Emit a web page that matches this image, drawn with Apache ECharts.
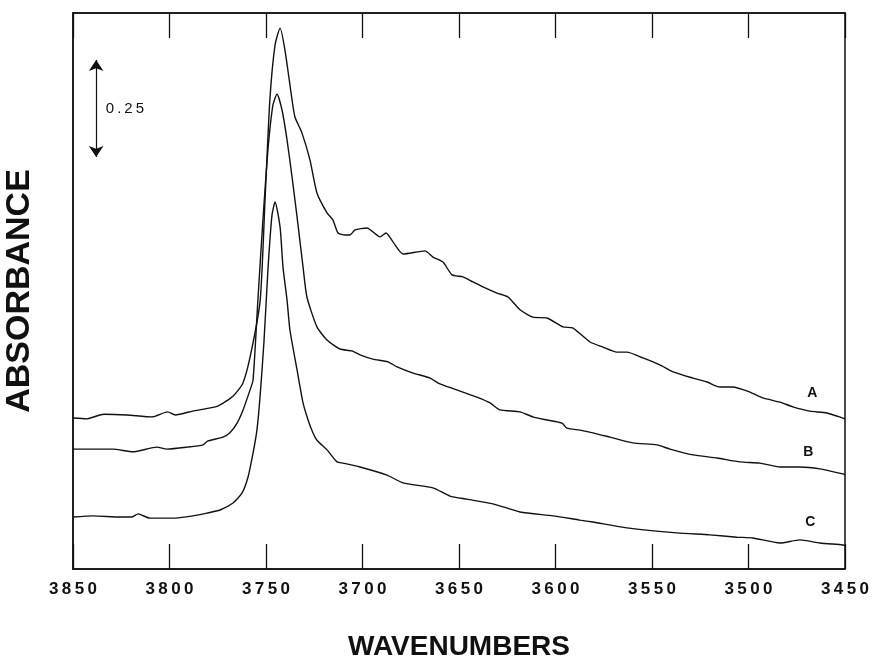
<!DOCTYPE html>
<html>
<head>
<meta charset="UTF-8">
<title>Absorbance spectra</title>
<script src="https://cdn.jsdelivr.net/npm/echarts@6/dist/echarts.min.js"></script>
<style>
    html,body{margin:0;padding:0;background:#fff;}
    #chart{width:872px;height:661px;}
</style>
</head>
<body>
<div id="chart"></div>
<script>
// wavenumber ticks
var xTicks = [3850, 3800, 3750, 3700, 3650, 3600, 3550, 3500, 3450];

// curve A
var waveA = [3850, 3843, 3834, 3822, 3809, 3801, 3797, 3788, 3775, 3767, 3762, 3758, 3753, 3750.5, 3748, 3745.3, 3742.7, 3740.2, 3736.5, 3735, 3731.4, 3727.2, 3723.6, 3718.4, 3715.3, 3712.7, 3709.1, 3706.5, 3703.9, 3697.7, 3690.9, 3687.8, 3684.2, 3679, 3667.6, 3663.5, 3658.3, 3653.6, 3647.9, 3642.8, 3637.6, 3630.3, 3624.6, 3618.4, 3611.7, 3604.4, 3596.1, 3590.9, 3582.1, 3575.4, 3568.2, 3563, 3554.7, 3545.9, 3539.1, 3528.8, 3521.5, 3514.8, 3508.1, 3499.3, 3492.5, 3483.7, 3477, 3468.2, 3459.4, 3451.1, 3450];
var absA = [0.389, 0.387, 0.399, 0.397, 0.392, 0.405, 0.397, 0.407, 0.420, 0.446, 0.479, 0.552, 0.693, 0.951, 1.209, 1.351, 1.394, 1.338, 1.209, 1.165, 1.124, 1.054, 0.969, 0.918, 0.899, 0.866, 0.861, 0.861, 0.874, 0.879, 0.856, 0.866, 0.843, 0.812, 0.820, 0.804, 0.791, 0.758, 0.753, 0.740, 0.727, 0.711, 0.701, 0.668, 0.649, 0.647, 0.624, 0.621, 0.585, 0.572, 0.559, 0.559, 0.544, 0.526, 0.508, 0.492, 0.482, 0.469, 0.469, 0.456, 0.441, 0.430, 0.418, 0.407, 0.402, 0.389, 0.387];

// curve B
var waveB = [3850, 3836, 3829.3, 3818.9, 3806.5, 3801.3, 3790.9, 3782.6, 3780.1, 3772.3, 3768.7, 3765, 3761.9, 3758.3, 3756.7, 3754.2, 3751.6, 3749, 3746.4, 3744.3, 3741.7, 3739.1, 3736.5, 3733.9, 3730.8, 3728.8, 3723.6, 3718.4, 3711.7, 3705.5, 3701.3, 3694.6, 3686.8, 3682.1, 3673.8, 3665, 3659.9, 3647.9, 3640.7, 3633.9, 3628.8, 3618.4, 3611.7, 3604.4, 3596.6, 3594.1, 3587.3, 3580.6, 3571.8, 3559.9, 3547.4, 3540.7, 3528.8, 3516.3, 3504.4, 3494.1, 3483.7, 3473.4, 3463, 3451.1, 3450];
var absB = [0.309, 0.309, 0.309, 0.302, 0.314, 0.309, 0.314, 0.320, 0.330, 0.340, 0.351, 0.376, 0.410, 0.461, 0.487, 0.693, 0.899, 1.080, 1.196, 1.224, 1.183, 1.106, 1.010, 0.907, 0.778, 0.701, 0.624, 0.590, 0.567, 0.562, 0.552, 0.541, 0.534, 0.521, 0.505, 0.492, 0.477, 0.456, 0.443, 0.428, 0.410, 0.405, 0.392, 0.384, 0.376, 0.363, 0.358, 0.351, 0.340, 0.325, 0.320, 0.309, 0.294, 0.286, 0.276, 0.273, 0.263, 0.263, 0.258, 0.245, 0.243];

// curve C
var waveC = [3850, 3839.6, 3825.6, 3819.4, 3816.3, 3810.1, 3798.2, 3787.8, 3780.6, 3773.8, 3767.1, 3762.4, 3759.3, 3756.7, 3754.7, 3753.1, 3751, 3749, 3746.9, 3745.3, 3742.7, 3741.2, 3739.1, 3737.6, 3733.9, 3730.8, 3728.2, 3725.7, 3723.6, 3718.4, 3713.2, 3710.1, 3701.3, 3687.3, 3679, 3663.5, 3654.7, 3645.9, 3632.4, 3618.4, 3601.3, 3587.3, 3580.6, 3563, 3537.1, 3520, 3506, 3497.7, 3483.7, 3473.4, 3463, 3451.1, 3450];
var absC = [0.134, 0.137, 0.134, 0.134, 0.142, 0.131, 0.131, 0.137, 0.144, 0.152, 0.170, 0.196, 0.237, 0.299, 0.358, 0.443, 0.590, 0.771, 0.912, 0.946, 0.881, 0.778, 0.693, 0.616, 0.513, 0.428, 0.384, 0.351, 0.332, 0.307, 0.276, 0.273, 0.263, 0.242, 0.222, 0.209, 0.188, 0.180, 0.168, 0.147, 0.137, 0.126, 0.121, 0.106, 0.093, 0.088, 0.082, 0.080, 0.067, 0.075, 0.067, 0.062, 0.060];

// curve labels and where they sit
var curveNames = ['A', 'B', 'C'];
var labelWave = [3467, 3469, 3468];
var labelAbs = [0.454, 0.302, 0.121];

// 0.25 absorbance scale bar
var scaleWave = 3838;
var scaleFrom = 1.062;
var scaleTo = 1.312;

function pairs(xs, ys) {
    var out = [];
    for (var i = 0; i < xs.length; i++) {
        out.push([xs[i], ys[i]]);
    }
    return out;
}

function spaced(v) {
    return String(v).split('').join('\u2009');
}

// invisible point that only carries a text label
function textPoint(x, y, text, size, weight, align) {
    return {
        coord: [x, y],
        symbol: 'circle',
        symbolSize: 1,
        itemStyle: { color: 'rgba(0,0,0,0)' },
        label: {
            show: true,
            position: 'inside',
            align: align || 'center',
            formatter: text,
            color: '#111',
            fontFamily: font,
            fontWeight: weight,
            fontSize: size
        }
    };
}

var myChart = echarts.init(document.getElementById('chart'));
var font = 'Liberation Sans, Arial, sans-serif';
var curves = [pairs(waveA, absA), pairs(waveB, absB), pairs(waveC, absC)];

var series = [];
for (var k = 0; k < curves.length; k++) {
    series.push({
        type: 'line',
        data: curves[k],
        showSymbol: false,
        smooth: 0.2,
        lineStyle: { color: '#111', width: 1.4 },
        markPoint: {
            silent: true,
            data: [textPoint(labelWave[k], labelAbs[k], curveNames[k], 14, 'bold')]
        }
    });
}

// scale bar with arrows
series.push({
    type: 'line',
    data: [],
    markLine: {
        silent: true,
        symbol: ['arrow', 'arrow'],
        symbolSize: 11,
        lineStyle: { color: '#111', width: 1.2, type: 'solid' },
        label: { show: false },
        data: [[{ coord: [scaleWave, scaleFrom] }, { coord: [scaleWave, scaleTo] }]]
    },
    markPoint: {
        silent: true,
        data: [textPoint(scaleWave - 5, (scaleFrom + scaleTo) / 2, spaced('0.25'), 15, 'normal', 'left')]
    }
});

var option = {
    animation: false,
    backgroundColor: '#fff',
    grid: {
        left: 73,
        right: 27,
        top: 13,
        bottom: 92,
        outerBoundsMode: 'none',
        containLabel: false,
        show: true,
        borderColor: '#111',
        borderWidth: 1.5
    },
    xAxis: [
        {
            type: 'value',
            min: 3450,
            max: 3850,
            interval: 50,
            inverse: true,
            position: 'bottom',
            name: 'WAVENUMBERS',
            nameLocation: 'middle',
            nameGap: 64,
            nameTextStyle: {
                color: '#111',
                fontFamily: font,
                fontWeight: 'bold',
                fontSize: 28
            },
            axisLine: { show: true, lineStyle: { color: '#111', width: 1.5 } },
            axisTick: { show: true, inside: true, length: 25, lineStyle: { color: '#111', width: 1.3 } },
            axisLabel: {
                margin: 12,
                color: '#111',
                fontFamily: font,
                fontWeight: 'bold',
                fontSize: 17,
                formatter: function (v) { return xTicks.indexOf(v) >= 0 ? spaced(v) : ''; }
            },
            splitLine: { show: false }
        },
        {
            type: 'value',
            min: 3450,
            max: 3850,
            interval: 50,
            inverse: true,
            position: 'top',
            axisLine: { show: true, lineStyle: { color: '#111', width: 1.5 } },
            axisTick: { show: true, inside: true, length: 25, lineStyle: { color: '#111', width: 1.3 } },
            axisLabel: { show: false },
            splitLine: { show: false }
        }
    ],
    yAxis: {
        type: 'value',
        min: 0,
        max: 1.433,
        name: 'ABSORBANCE',
        nameLocation: 'middle',
        nameGap: 36,
        nameTextStyle: {
            color: '#111',
            fontFamily: font,
            fontWeight: 'bold',
            fontSize: 34
        },
        axisLine: { show: true, lineStyle: { color: '#111', width: 1.5 } },
        axisTick: { show: false },
        axisLabel: { show: false },
        splitLine: { show: false }
    },
    series: series
};

myChart.setOption(option);
window.onresize = function () {
    myChart.resize();
};
</script>
</body>
</html>
